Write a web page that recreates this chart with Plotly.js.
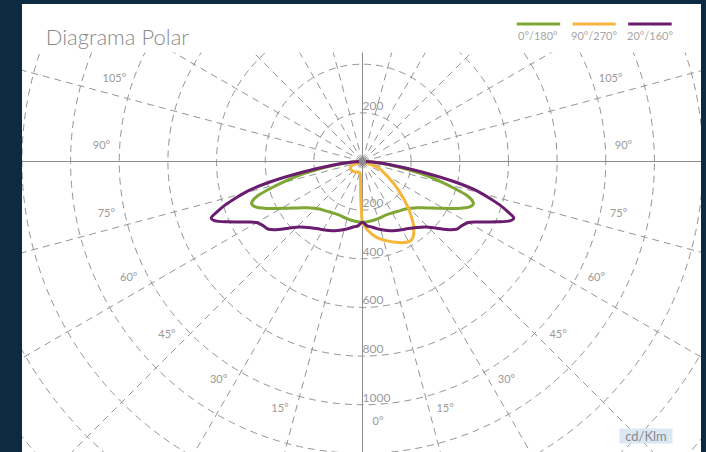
<!DOCTYPE html>
<html><head><meta charset="utf-8">
<script src="https://cdn.plot.ly/plotly-3.0.1.min.js"></script>
<style>
html,body{margin:0;padding:0;background:#0c2a42;width:706px;height:452px;overflow:hidden}
#panel{position:absolute;left:22px;top:4px;width:679px;height:448px;background:#fff;overflow:hidden}
#chart{position:absolute;left:-145.7px;top:-329.5px;width:973px;height:973px}
</style></head><body>
<div id="panel"><div id="chart"></div></div>
<script>
// ---- data (cd/klm) ----
const seriesNames = ['0°/180°', '90°/270°', '20°/160°'];
const seriesColors = ['#7fa733', '#f6b63a', '#6a1c6e'];

const greenTheta = [-90,-88,-86,-83.4,-80.3,-78.3,-76,-73.6,-72,-70.5,-69,-67,-64,-61,-58,-54,-50,-46,-42,-36,-30,-24,-16,-8,0,8,16,24,30,36,42,46,50,54,58,61,64,67,69,70.5,72,73.6,76,78.3,80.3,83.4,86,88,90];
const greenR     = [0,25,55,105,177,249,320,397,450,478,488,478,440,398,362,325,295,276,263,252,244,240,243,247,250,247,243,240,244,252,263,276,295,325,362,398,440,478,488,478,450,397,320,249,177,105,55,25,0];

const yellowTheta = [-90,-80,-74,-71,-68,-62,-55,-45,-35,-25,-18,-12,-8.5,-6,-3.6,-2.4,-1.3,0,4.6,10.4,18.8,24,28.5,32,34.5,36.6,38.5,40.2,42.5,44.9,47.5,50.5,54,57.5,62,67,69.5,71.6,76,90];
const yellowR     = [0,2,8,30,50,57,58,56,52,48,46,50,58,78,120,160,202,250,285,317,347,365,378,380,370,354,337,318,292,265,232,198,165,133,102,77,50,17,4,0];

const purpleTheta = [-90,-88,-86,-83.4,-80,-77.5,-75.5,-74,-72.5,-71,-69.5,-68,-66,-64,-62,-60,-58,-56.5,-54.5,-52,-48,-44,-38,-32,-26,-20,-16,-12,-8,-4,0,4,8,12,16,20,26,32,38,44,48,52,54.5,56.5,58,60,62,64,66,68,69.5,71,72.5,74,75.5,77.5,80,83.4,86,88,90];
const purpleR     = [0,27,58,115,248,390,490,540,590,630,664,652,610,567,530,502,490,484,478,455,410,375,346,328,316,302,292,282,272,265,250,265,272,282,292,302,316,328,346,375,410,455,478,484,490,502,530,567,610,652,664,630,590,540,490,390,248,115,58,27,0];

const radialTicks = [200,400,600,800,1000,1200,1400,1600,1800];
const radialLabelR = [200,200,400,600,800,1000];
const radialLabelTheta = [180,0,0,0,0,0];
const angleTicks = [0,15,30,45,60,75,90,105];
const unitLabel = 'cd/Klm';
const titleText = 'Diagrama Polar';

// ---- geometry of the big figure inside the page ----
const S = 973, L = -123.7, T = -325.5;
const px2x = px => (px - L) / S;
const py2y = py => 1 - (py - T) / S;

const FONT = 'Lato, "Open Sans", "DejaVu Sans", sans-serif';
const GRID = '#959595';

const traces = [];
// solid cross axes
traces.push({type:'scatterpolar', mode:'lines', r:[2000,0,2000,null,2000,0,2000], theta:[0,0,180,null,90,90,270],
  line:{color:'#8c8c8c', width:1}, hoverinfo:'skip', showlegend:false});
// series
const thetas = [greenTheta, yellowTheta, purpleTheta];
const rs = [greenR, yellowR, purpleR];
for (let i = 0; i < 3; i++) {
  traces.push({type:'scatterpolar', mode:'lines', name:seriesNames[i], r:rs[i], theta:thetas[i],
    line:{color:seriesColors[i], width:3, shape:'spline', smoothing:0.8}, hoverinfo:'skip'});
}
// centre dot
traces.push({type:'scatterpolar', mode:'markers', r:[0], theta:[0], marker:{size:7, color:'#8c8c8c'}, hoverinfo:'skip'});
// radial labels
traces.push({type:'scatterpolar', mode:'text', r:radialLabelR, theta:radialLabelTheta,
  text:radialLabelR.map(String), textposition:'top right', textfont:{family:FONT, size:12, color:'#9a9a9a'}, hoverinfo:'skip'});
// angle labels (both sides)
const aTheta = [], aText = [];
angleTicks.forEach(a => {
  aTheta.push(a + 3.4); aText.push(a + '°');
  if (a > 0) { aTheta.push(-(a + 3.4)); aText.push(a + '°'); }
});
traces.push({type:'scatterpolar', mode:'text', r:aTheta.map(() => 1075), theta:aTheta, text:aText,
  textposition:'middle center', textfont:{family:FONT, size:11, color:'#9a9a9a'}, hoverinfo:'skip'});

const shapes = [
  {type:'rect', xref:'paper', yref:'paper', x0:0, x1:1, y0:py2y(52), y1:1.01, fillcolor:'#ffffff', line:{width:0}, layer:'above'}
];
const legX = [[517,560.5],[573,616],[628.5,672]];
const annotations = [];
for (let i = 0; i < 3; i++) {
  shapes.push({type:'line', xref:'paper', yref:'paper', x0:px2x(legX[i][0]), x1:px2x(legX[i][1]), y0:py2y(23.5), y1:py2y(23.5),
    line:{color:seriesColors[i], width:3}, layer:'above'});
  annotations.push({xref:'paper', yref:'paper', x:px2x((legX[i][0]+legX[i][1])/2), y:py2y(35), text:seriesNames[i],
    showarrow:false, xanchor:'center', yanchor:'middle', font:{family:FONT, size:11, color:'#a5a5a5'}});
}
annotations.push({xref:'paper', yref:'paper', x:px2x(646), y:py2y(435.5), text:unitLabel, showarrow:false,
  xanchor:'center', yanchor:'middle', width:52, height:14, bgcolor:'#dbe7f3', borderpad:0,
  font:{family:FONT, size:13, color:'#8a8a8a'}});

const layout = {
  width:S, height:S,
  margin:{l:0, r:0, t:0, b:0, pad:0},
  paper_bgcolor:'rgba(0,0,0,0)',
  showlegend:false,
  font:{family:FONT, color:'#999'},
  title:{text:titleText, xref:'container', yref:'container', x:px2x(46), y:py2y(37), xanchor:'left', yanchor:'middle',
    font:{family:FONT, size:22, color:'#8a8a8a', weight:300}},
  polar:{
    domain:{x:[0,1], y:[0,1]},
    bgcolor:'#ffffff',
    radialaxis:{range:[0,2000], tickvals:radialTicks, showticklabels:false, ticks:'', showline:false,
      gridcolor:GRID, gridwidth:1, griddash:'7px,5px'},
    angularaxis:{rotation:-90, direction:'counterclockwise', tickvals:[0,15,30,45,60,75,90,105,120,135,150,165,180,195,210,225,240,255,270,285,300,315,330,345],
      showticklabels:false, ticks:'', showline:false, gridcolor:GRID, gridwidth:1, griddash:'7px,5px'}
  },
  shapes:shapes,
  annotations:annotations
};
Plotly.newPlot('chart', traces, layout, {staticPlot:true, displayModeBar:false});
</script></body></html>
